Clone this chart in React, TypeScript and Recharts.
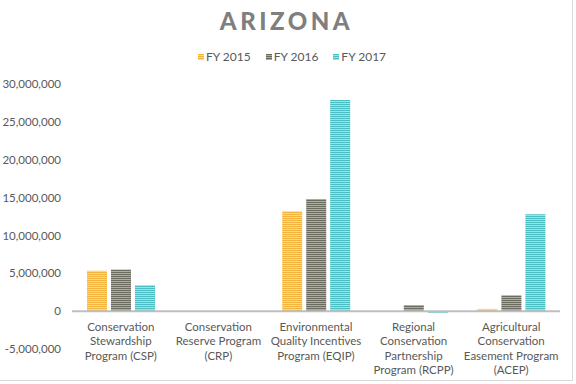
import React from 'react';
import { BarChart, Bar, XAxis, YAxis, ReferenceLine } from 'recharts';

const programs = [
  'Conservation Stewardship Program (CSP)',
  'Conservation Reserve Program (CRP)',
  'Environmental Quality Incentives Program (EQIP)',
  'Regional Conservation Partnership Program (RCPP)',
  'Agricultural Conservation Easement Program (ACEP)',
];

// label lines as they wrap in the original
const programLines = [
  ['Conservation', 'Stewardship', 'Program (CSP)'],
  ['Conservation', 'Reserve Program', '(CRP)'],
  ['Environmental', 'Quality Incentives', 'Program (EQIP)'],
  ['Regional', 'Conservation', 'Partnership', 'Program (RCPP)'],
  ['Agricultural', 'Conservation', 'Easement Program', '(ACEP)'],
];

const fy2015 = [5330000, 0, 13200000, 0, 300000];
const fy2016 = [5500000, 0, 14800000, 800000, 2100000];
const fy2017 = [3440000, 0, 27900000, -200000, 12800000];

const yTicks = [-5000000, 0, 5000000, 10000000, 15000000, 20000000, 25000000, 30000000];

const seriesInfo = [
  { key: 'fy2015', name: 'FY 2015', base: '#F2B43C', light: '#F9D98E' },
  { key: 'fy2016', name: 'FY 2016', base: '#6C6C61', light: '#ABABA3' },
  { key: 'fy2017', name: 'FY 2017', base: '#4CBEC3', light: '#A8DEE0' },
];

const data = programs.map((p, i) => ({
  name: p,
  fy2015: fy2015[i],
  fy2016: fy2016[i],
  fy2017: fy2017[i],
}));

const FONT = 'Lato, "Open Sans", sans-serif';

const ProgramTick = (props: any) => {
  const { x, y, payload, index } = props;
  const lines = programLines[index] || [payload.value];
  return (
    <g>
      {lines.map((l: string, i: number) => (
        <text
          key={i}
          x={x}
          y={y - 18 + i * 14.3}
          textAnchor="middle"
          fill="#595959"
          fontSize={11.5}
          fontFamily={FONT}
        >
          {l}
        </text>
      ))}
    </g>
  );
};

export default function App() {
  return (
    <div style={{ position: 'absolute', left: 0, top: 0, width: 576, height: 384, background: '#fff', fontFamily: FONT }}>
      <div style={{ position: 'absolute', left: 0, top: 0, width: 572, height: 380, borderRight: '1px solid #D9D9D9', borderBottom: '1px solid #D9D9D9' }} />
      <div style={{ position: 'absolute', left: 0, top: 6, width: 573, textAlign: 'center', fontSize: 24, fontWeight: 900, letterSpacing: 3.5, color: '#7F7F7F', lineHeight: '30px' }}>
        ARIZONA
      </div>
      <div style={{ position: 'absolute', left: 0, top: 49, width: 576, display: 'flex', justifyContent: 'center', fontSize: 12, color: '#595959', lineHeight: '16px' }}>
        <div style={{ display: 'flex', alignItems: 'center', gap: 15, paddingLeft: 8 }}>
          {seriesInfo.map((s) => (
            <div key={s.key} style={{ display: 'flex', alignItems: 'center' }}>
              <span style={{ display: 'inline-block', width: 6, height: 6, marginRight: 2, background: `repeating-linear-gradient(${s.base} 0px, ${s.base} 1px, ${s.light} 1px, ${s.light} 2px)` }} />
              <span>{s.name}</span>
            </div>
          ))}
        </div>
      </div>
      <BarChart
        width={576}
        height={384}
        data={data}
        margin={{ top: 84, right: 16, bottom: 0, left: 0 }}
        barSize={20}
        barGap={4}
        style={{ position: 'absolute', left: 0, top: 0 }}
      >
        <defs>
          {seriesInfo.map((s) => (
            <pattern key={s.key} id={`stripe-${s.key}`} patternUnits="userSpaceOnUse" width={4} height={2}>
              <rect x={0} y={0} width={4} height={1} fill={s.base} />
              <rect x={0} y={1} width={4} height={1} fill={s.light} />
            </pattern>
          ))}
        </defs>
        <XAxis
          dataKey="name"
          height={35}
          axisLine={false}
          tickLine={false}
          tickSize={0}
          tickMargin={0}
          interval={0}
          tick={ProgramTick}
        />
        <YAxis
          width={72}
          domain={[-5000000, 30000000]}
          ticks={yTicks}
          interval={0}
          axisLine={false}
          tickLine={false}
          tickSize={9}
          tickMargin={2}
          tick={{ fill: '#595959', fontSize: 11.5, fontFamily: FONT }}
          tickFormatter={(v: number) => v.toLocaleString('en-US')}
        />
        {seriesInfo.map((s) => (
          <Bar key={s.key} dataKey={s.key} name={s.name} fill={`url(#stripe-${s.key})`} isAnimationActive={false} />
        ))}
        <ReferenceLine y={0} stroke="#BFBFBF" strokeWidth={2} />
      </BarChart>
    </div>
  );
}
